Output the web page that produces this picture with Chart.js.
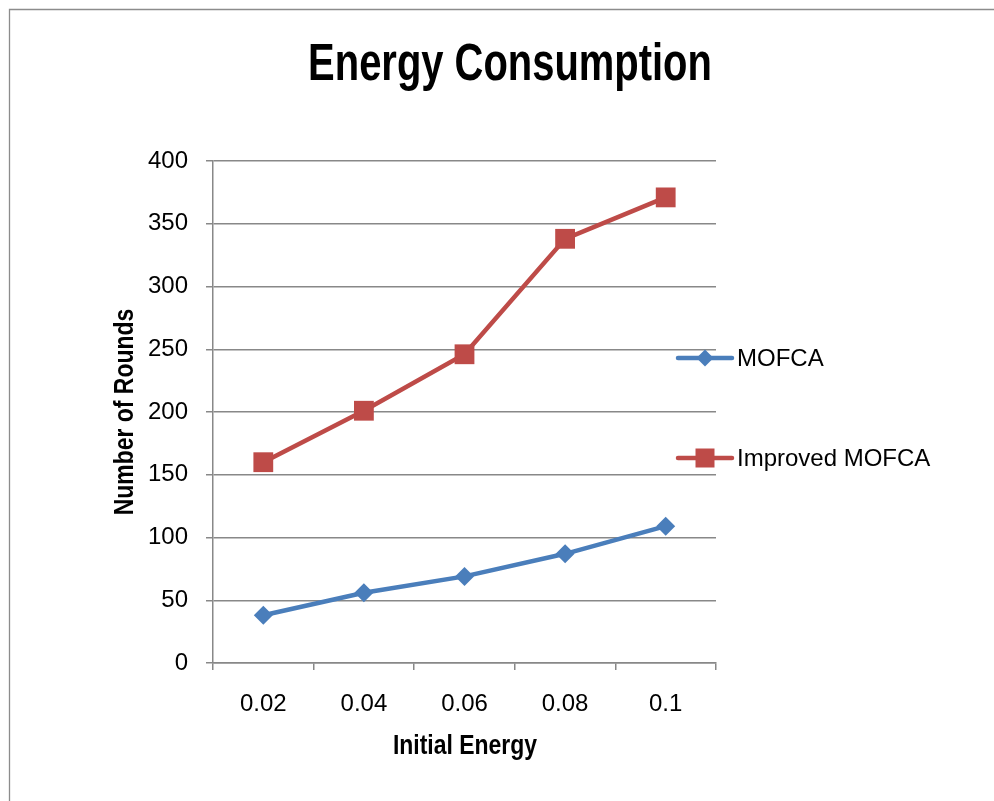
<!DOCTYPE html>
<html>
<head>
<meta charset="utf-8">
<script src="https://cdn.jsdelivr.net/npm/chart.js@4.4.1/dist/chart.umd.min.js"></script>
<style>
html,body{margin:0;padding:0;background:#fff;}
#wrap{width:994px;height:801px;position:relative;}
canvas{display:block;}
</style>
</head>
<body>
<div id="wrap"><canvas id="c" width="994" height="801"></canvas></div>
<script>
// ---- data ----
const categories = ['0.02', '0.04', '0.06', '0.08', '0.1'];
const mofca = [38, 56, 69, 87, 109];
const improvedMofca = [160, 201, 246, 338, 371];
const yTicks = [0, 50, 100, 150, 200, 250, 300, 350, 400];
const seriesNames = ['MOFCA', 'Improved MOFCA'];
const chartTitle = 'Energy Consumption';
const xTitle = 'Initial Energy';
const yTitle = 'Number of Rounds';

// ---- styles ----
const BLUE = '#4A7EBB';
const RED = '#BE4B48';
const GRID = '#888888';
const REG = "'Liberation Sans', Arial, sans-serif";

// draw condensed bold text (horizontal squeeze of a real font)
function narrowText(ctx, text, x, y, size, squeeze, rot) {
  ctx.save();
  ctx.translate(x, y);
  if (rot) ctx.rotate(rot);
  ctx.scale(squeeze, 1);
  ctx.font = 'bold ' + size + 'px ' + REG;
  ctx.fillStyle = '#000';
  ctx.textAlign = 'center';
  ctx.textBaseline = 'alphabetic';
  ctx.fillText(text, 0, 0);
  ctx.restore();
}

const decor = {
  id: 'decor',
  beforeDraw(chart) {
    const ctx = chart.ctx;
    ctx.save();
    ctx.strokeStyle = '#8c8c8c';
    ctx.lineWidth = 1.3;
    ctx.beginPath();
    ctx.moveTo(9.5, chart.height);
    ctx.lineTo(9.5, 9.5);
    ctx.lineTo(chart.width, 9.5);
    ctx.stroke();
    ctx.restore();
  },
  afterDraw(chart) {
    const ctx = chart.ctx;
    const area = chart.chartArea;
    // chart title
    narrowText(ctx, chartTitle, 510, 80, 51, 0.783, 0);
    // axis titles
    narrowText(ctx, xTitle, (area.left + area.right) / 2 + 0.5, 753.5, 28, 0.82, 0);
    narrowText(ctx, yTitle, 133, (area.top + area.bottom) / 2, 28, 0.82, -Math.PI / 2);
    // legend
    ctx.save();
    const items = [
      {name: seriesNames[0], color: BLUE, style: 'diamond', y: 358},
      {name: seriesNames[1], color: RED, style: 'square', y: 458}
    ];
    const x0 = area.right - 38, x1 = area.right + 16, cx = area.right - 11;
    items.forEach(it => {
      ctx.strokeStyle = it.color;
      ctx.lineWidth = 4.5;
      ctx.lineCap = 'round';
      ctx.beginPath();
      ctx.moveTo(x0, it.y);
      ctx.lineTo(x1, it.y);
      ctx.stroke();
      ctx.fillStyle = it.color;
      ctx.beginPath();
      if (it.style === 'diamond') {
        ctx.moveTo(cx - 8.5, it.y);
        ctx.lineTo(cx, it.y - 8.5);
        ctx.lineTo(cx + 8.5, it.y);
        ctx.lineTo(cx, it.y + 8.5);
        ctx.closePath();
      } else {
        ctx.rect(cx - 9.5, it.y - 9.5, 19, 19);
      }
      ctx.fill();
      ctx.fillStyle = '#000';
      ctx.font = '24px ' + REG;
      ctx.textAlign = 'left';
      ctx.textBaseline = 'middle';
      ctx.fillText(it.name, area.right + 21, it.y + 1);
    });
    ctx.restore();
  }
};

new Chart(document.getElementById('c'), {
  type: 'line',
  data: {
    labels: categories,
    datasets: [
      {
        label: seriesNames[0],
        data: mofca,
        borderColor: BLUE,
        backgroundColor: BLUE,
        borderWidth: 4.5,
        pointStyle: 'rectRot',
        pointRadius: 9.5,
        pointHoverRadius: 9.5,
        pointBorderWidth: 0,
        pointBackgroundColor: BLUE,
        tension: 0
      },
      {
        label: seriesNames[1],
        data: improvedMofca,
        borderColor: RED,
        backgroundColor: RED,
        borderWidth: 4.5,
        pointStyle: 'rect',
        pointRadius: 14,
        pointHoverRadius: 14,
        pointBorderWidth: 0,
        pointBackgroundColor: RED,
        tension: 0
      }
    ]
  },
  options: {
    responsive: false,
    animation: false,
    devicePixelRatio: 1,
    layout: {padding: {top: 161, right: 278, bottom: 0, left: 0}},
    plugins: {
      legend: {display: false},
      title: {display: false, text: chartTitle},
      tooltip: {enabled: false}
    },
    scales: {
      x: {
        type: 'category',
        offset: true,
        afterFit(scale) { scale.height = 138; },
        grid: {display: true, drawOnChartArea: false, offset: true, tickLength: 7, color: GRID, lineWidth: 1.5},
        border: {display: true, color: GRID, width: 1.5},
        ticks: {color: '#000', font: {family: REG, size: 24}, padding: 20, maxRotation: 0},
        title: {display: false, text: xTitle}
      },
      y: {
        min: yTicks[0],
        max: yTicks[yTicks.length - 1],
        afterFit(scale) { scale.width = 213; },
        afterBuildTicks(scale) { scale.ticks = yTicks.map(v => ({value: v})); },
        grid: {display: true, drawOnChartArea: true, tickLength: 7, color: GRID, lineWidth: 1.5},
        border: {display: true, color: GRID, width: 1.5},
        ticks: {color: '#000', font: {family: REG, size: 24}, padding: 18},
        title: {display: false, text: yTitle}
      }
    }
  },
  plugins: [decor]
});
</script>
</body>
</html>
